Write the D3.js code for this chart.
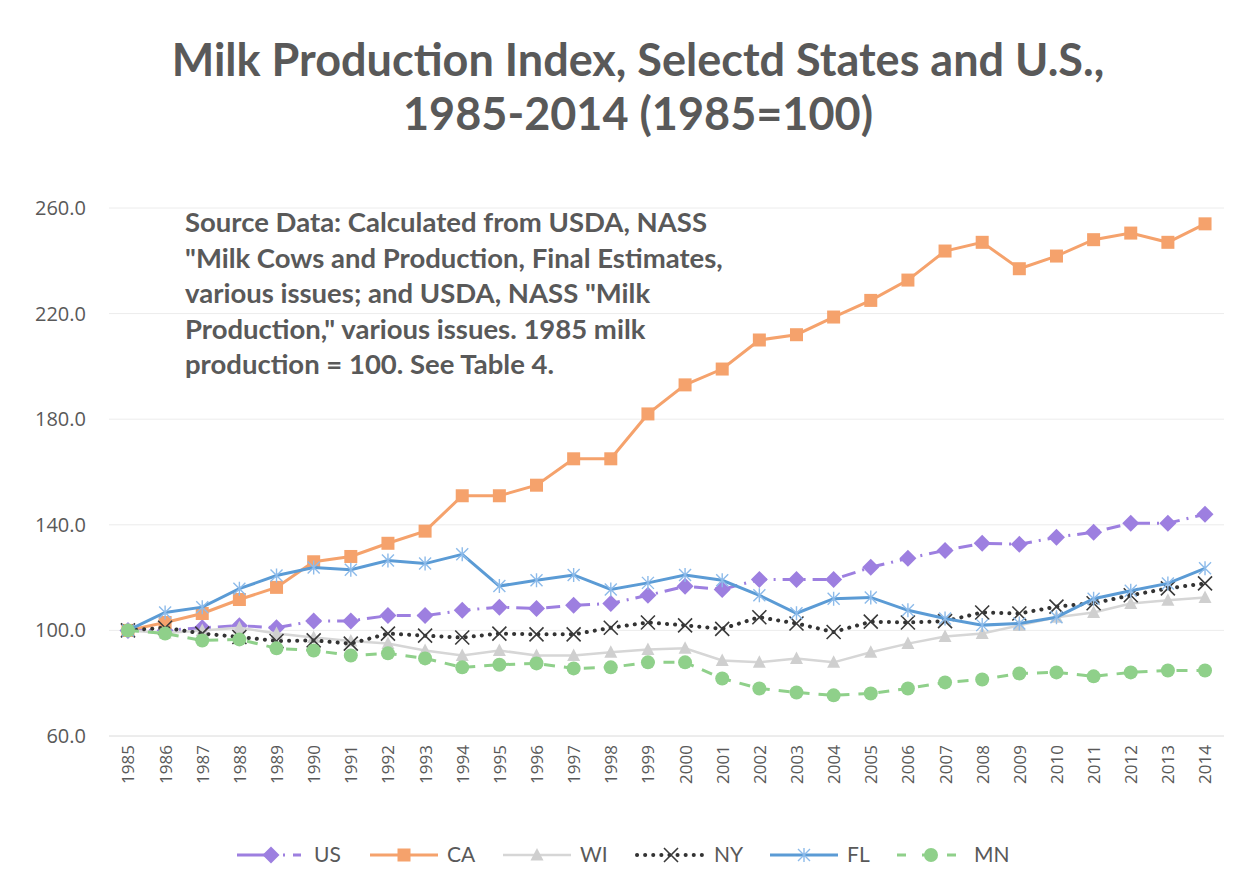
<!DOCTYPE html>
<html>
<head>
<meta charset="utf-8">
<script src="https://cdn.jsdelivr.net/npm/d3@7"></script>
<style>
  body { margin: 0; background: #fff; }
  svg text { font-family: Lato, "Open Sans", sans-serif; fill: #595959; }
</style>
</head>
<body>
<div id="chart"></div>
<script>
// data
const years = d3.range(1985, 2015).map(String);
const yTicks = [60, 100, 140, 180, 220, 260];

const usVals = [100, 100, 101, 101.8, 101, 103.6, 103.6, 105.6, 105.6, 107.6, 108.8, 108.3, 109.5, 110.2, 113.3,
  116.7, 115.5, 119.3, 119.3, 119.3, 123.9, 127.3, 130.3, 133, 132.6, 135.3, 137.2, 140.6, 140.6, 144];
const caVals = [100, 103, 106.4, 111.7, 116.3, 126, 128, 133, 137.6, 151, 151, 155, 165, 165, 182,
  193, 199, 210, 212, 218.7, 225, 232.7, 243.7, 247, 237, 241.8, 248, 250.5, 247, 254];
const wiVals = [100, 99, 100, 101, 98.8, 97.3, 96, 95, 92.4, 90.5, 92.4, 90.5, 90.5, 91.7, 92.8,
  93.2, 88.6, 87.9, 89.4, 87.9, 91.7, 95, 97.7, 98.8, 101.9, 105, 106.8, 110.2, 111.4, 112.5];
const nyVals = [100, 101, 98.8, 97.5, 96, 96.2, 95, 98.8, 98, 97.3, 98.8, 98.5, 98.5, 101, 103,
  101.9, 100.6, 105, 102.6, 99.4, 103.3, 103, 103.5, 106.8, 106.4, 109, 110.3, 113.3, 115.9, 117.8];
const flVals = [100, 106.8, 108.8, 115.8, 120.8, 123.8, 123, 126.5, 125.3, 128.8, 116.8, 119, 121, 115.5, 118,
  121, 119, 113.3, 106.5, 112, 112.5, 107.6, 104.5, 102, 102.6, 105, 112, 115, 117.8, 123.5];
const mnVals = [100, 98.8, 96.2, 96.6, 93.2, 92.4, 90.5, 91.3, 89.4, 86, 87, 87.5, 85.6, 86, 87.9,
  87.9, 81.8, 78, 76.5, 75.4, 76.1, 78, 80.3, 81.4, 83.7, 84.1, 82.6, 84.1, 84.8, 84.8];

const noteLines = [
  "Source Data: Calculated from USDA, NASS",
  "\"Milk Cows and Production, Final Estimates,",
  "various issues; and USDA, NASS \"Milk",
  "Production,\" various issues. 1985 milk",
  "production = 100.  See Table 4."
];

const series = [
  { name: "US", values: usVals, color: "#9d7fe0", width: 3, dash: "14,7,2,7", legendDash: "40,6,2,8,8,100", marker: "diamond" },
  { name: "CA", values: caVals, color: "#f5a26c", width: 3, dash: null, marker: "square" },
  { name: "WI", values: wiVals, color: "#d6d6d6", width: 2.5, dash: null, marker: "triangle" },
  { name: "NY", values: nyVals, color: "#333333", width: 4, dash: "0.1,8", legendDash: "0.1,8", marker: "x" },
  { name: "FL", values: flVals, color: "#5b9bd5", width: 3, dash: null, marker: "asterisk" },
  { name: "MN", values: mnVals, color: "#8fd08a", width: 3, dash: "11,9", legendDash: "9,16", marker: "circle" }
];

const width = 1258, height = 882;
const svg = d3.select("#chart").append("svg")
  .attr("width", width)
  .attr("height", height);

const x = d3.scalePoint().domain(years).range([109.4, 1223.6]).padding(0.5);
const y = d3.scaleLinear().domain([60, 260]).range([736, 208]);

// title
svg.append("text")
  .attr("x", 638).attr("y", 76)
  .attr("text-anchor", "middle")
  .style("font-size", "45px").style("font-weight", "bold")
  .text("Milk Production Index, Selectd States and U.S.,");
svg.append("text")
  .attr("x", 638).attr("y", 130)
  .attr("text-anchor", "middle")
  .style("font-size", "45px").style("font-weight", "bold")
  .text("1985-2014 (1985=100)");

// grid
svg.append("g")
  .selectAll("line")
  .data(yTicks)
  .join("line")
  .attr("x1", 109).attr("x2", 1224)
  .attr("y1", d => y(d)).attr("y2", d => y(d))
  .attr("stroke", d => d === 60 ? "#dadada" : "#ececec")
  .attr("stroke-width", 1);

// y axis labels
const yAxis = svg.append("g")
  .attr("transform", "translate(109,0)")
  .call(d3.axisLeft(y).tickValues(yTicks).tickFormat(d3.format(".1f")).tickSize(0).tickPadding(23));
yAxis.select(".domain").remove();
yAxis.selectAll("text").style("font-size", "20px").style("font-family", "\"Open Sans\", sans-serif");

// x axis labels
const xAxis = svg.append("g")
  .attr("transform", "translate(0,736)")
  .call(d3.axisBottom(x).tickSize(0).tickPadding(0));
xAxis.select(".domain").remove();
xAxis.selectAll("text")
  .attr("transform", "rotate(-90)")
  .attr("x", -9).attr("y", 0).attr("dy", "0.35em")
  .attr("text-anchor", "end")
  .style("font-size", "17px").style("font-family", "\"Open Sans\", sans-serif");

// note
svg.append("g")
  .selectAll("text")
  .data(noteLines)
  .join("text")
  .attr("x", 185)
  .attr("y", (d, i) => 232 + i * 35.6)
  .style("font-size", "27.5px").style("font-weight", "bold")
  .text(d => d);

function markerShape(g, type, color) {
  if (type === "diamond") {
    g.append("path").attr("d", "M0,-8.5L8.5,0L0,8.5L-8.5,0Z").attr("fill", color);
  } else if (type === "square") {
    g.append("rect").attr("x", -6.5).attr("y", -6.5).attr("width", 13).attr("height", 13).attr("fill", color);
  } else if (type === "triangle") {
    g.append("path").attr("d", "M0,-7L6.5,5.5L-6.5,5.5Z").attr("fill", "#cfcfcf");
  } else if (type === "x") {
    g.append("path").attr("d", "M-7,-7L7,7M-7,7L7,-7").attr("stroke", "#3a3a3a").attr("stroke-width", 1.6).attr("fill", "none");
  } else if (type === "asterisk") {
    g.append("path").attr("d", "M-6,-6L6,6M-6,6L6,-6M0,-7L0,7").attr("stroke", "#8dbbea").attr("stroke-width", 1.4).attr("fill", "none");
  } else if (type === "circle") {
    g.append("circle").attr("r", 7).attr("fill", color);
  }
}

const line = d3.line().x((d, i) => x(years[i])).y(d => y(d));

series.forEach(s => {
  svg.append("path")
    .datum(s.values)
    .attr("d", line)
    .attr("fill", "none")
    .attr("stroke", s.color)
    .attr("stroke-width", s.width)
    .attr("stroke-linecap", s.name === "NY" ? "round" : "butt")
    .attr("stroke-dasharray", s.dash);
  svg.append("g")
    .selectAll("g")
    .data(s.values)
    .join("g")
    .attr("transform", (d, i) => `translate(${x(years[i])},${y(d)})`)
    .each(function () { markerShape(d3.select(this), s.marker, s.color); });
});

// legend
const legendX = [237, 370, 503, 637, 770, 897];
const legend = svg.append("g").attr("transform", "translate(0,855)");
series.forEach((s, i) => {
  const g = legend.append("g").attr("transform", `translate(${legendX[i]},0)`);
  g.append("line")
    .attr("x1", 0).attr("x2", 68)
    .attr("stroke", s.color)
    .attr("stroke-width", s.width)
    .attr("stroke-linecap", s.name === "NY" ? "round" : "butt")
    .attr("stroke-dasharray", s.legendDash || null);
  const m = g.append("g").attr("transform", "translate(34,0)");
  markerShape(m, s.marker, s.color);
  g.append("text")
    .attr("x", 77).attr("y", 0).attr("dy", "0.35em")
    .style("font-size", "21px")
    .text(s.name);
});
</script>
</body>
</html>
